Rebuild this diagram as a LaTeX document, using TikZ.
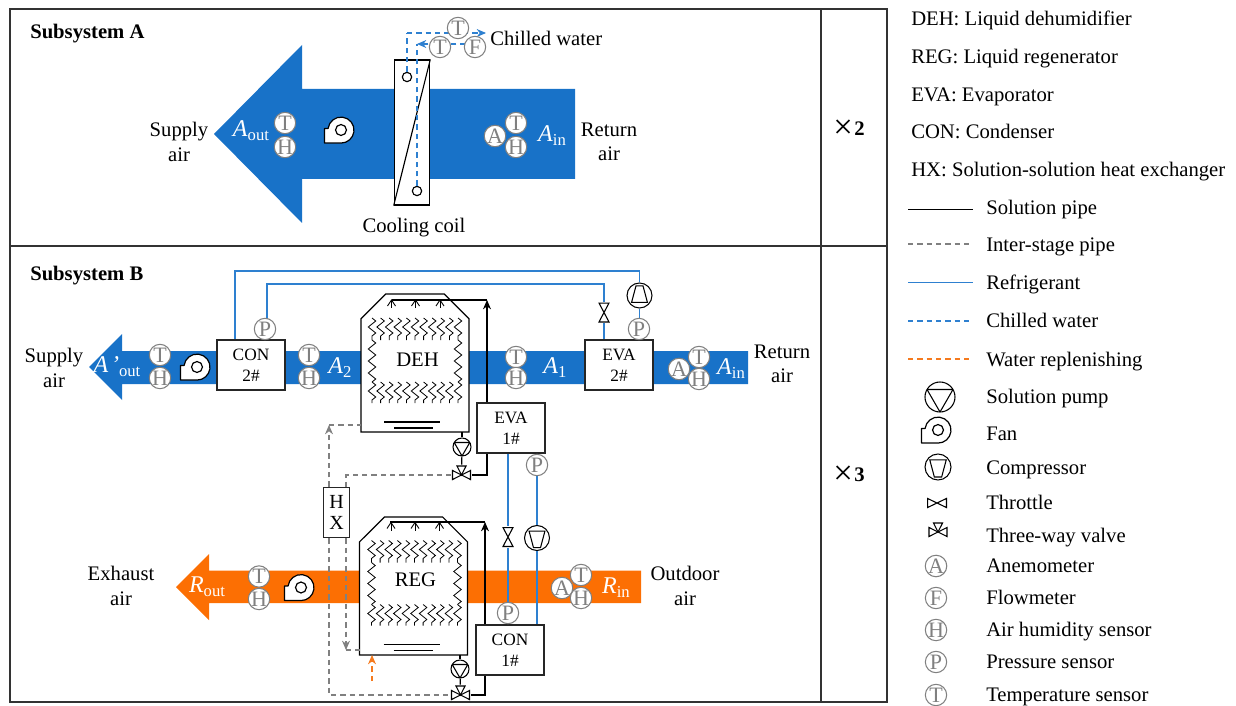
\documentclass[tikz,border=0pt]{standalone}
\usepackage{fontspec}
\setmainfont{Liberation Serif}
\usepackage{tikz}
\usetikzlibrary{positioning,arrows.meta,shapes.misc,decorations.pathmorphing}
\definecolor{AirBlue}{HTML}{1872C8}
\definecolor{AirOrange}{HTML}{FC6F03}
\definecolor{PipeBlue}{HTML}{2E80D0}
\definecolor{PipeGray}{HTML}{808080}
\definecolor{PipeOrange}{HTML}{F57A1E}
\definecolor{FrameGray}{HTML}{333333}
\newcommand{\airlab}[2]{{\fontsize{18}{18}\selectfont\textit{#1}}\raisebox{-3pt}{\fontsize{12.5}{12.5}\selectfont #2}}
\newcommand{\timesby}[1]{\raisebox{-2pt}{\fontsize{26}{26}\selectfont ×}\kern1pt\textbf{#1}}

\begin{document}
\begin{tikzpicture}[x=0.75pt,y=-0.75pt,>={Stealth[length=7pt,width=6pt]},
    font=\fontsize{15.5}{18.4}\selectfont]
  \tikzstyle{txt}=[inner sep=0pt,align=center]
  \tikzstyle{legtxt}=[inner sep=0pt,anchor=west,text height=10.5pt,text depth=3.3pt,yshift=-1.1pt]
  \tikzstyle{airtxt}=[inner sep=0pt,text=white]
  \tikzstyle{frameline}=[draw=FrameGray,line width=1.1pt]
  \tikzstyle{boxnode}=[draw=black!85,fill=white,line width=0.85pt,inner sep=0pt,align=center,
    minimum width=51pt,minimum height=37.5pt,font=\fontsize{13}{16}\selectfont,
    execute at begin node={\rule{0pt}{13pt}}]
  \tikzstyle{tower}=[chamfered rectangle,chamfered rectangle corners={north west,north east},
    chamfered rectangle xsep=13pt,chamfered rectangle ysep=13.5pt,draw=black,fill=white,
    line width=0.85pt,inner sep=0pt,outer sep=0pt,minimum width=81pt,minimum height=103.5pt]
  \tikzstyle{sensor}=[circle,draw=PipeGray,fill=white,line width=0.8pt,inner sep=0pt,
    minimum size=16pt,text=PipeGray,font=\fontsize{16.5}{16.5}\selectfont]
  \tikzstyle{solline}=[draw=black,line width=0.85pt]
  \tikzstyle{interline}=[draw=PipeGray,line width=0.8pt,dash pattern=on 4pt off 3pt]
  \tikzstyle{refline}=[draw=PipeBlue,line width=0.85pt]
  \tikzstyle{chillline}=[draw=PipeBlue,line width=0.8pt,dash pattern=on 4pt off 3pt]
  \tikzstyle{makeline}=[draw=PipeOrange,line width=0.8pt,dash pattern=on 4pt off 3pt]
  \tikzstyle{packline}=[line width=0.6pt,decorate,decoration={zigzag,segment length=9pt,amplitude=2.8pt}]
  \tikzset{
    pumpnode/.style={circle,draw=black,fill=white,line width=0.8pt,inner sep=0pt,minimum size=#1,
      path picture={\draw[line width=0.8pt]
        ([shift={(150:#1/2)}]path picture bounding box.center)
        --([shift={(30:#1/2)}]path picture bounding box.center)
        --([shift={(-90:#1/2)}]path picture bounding box.center)--cycle;}},
    compnode/.style 2 args={circle,draw=black,fill=white,line width=0.8pt,inner sep=0pt,minimum size=#1,
      path picture={\draw[line width=0.8pt]
        ([shift={(#2*41:#1*0.42)}]path picture bounding box.center)
        --([shift={(#2*139:#1*0.42)}]path picture bounding box.center)
        --([shift={(#2*-110:#1*0.41)}]path picture bounding box.center)
        --([shift={(#2*-70:#1*0.41)}]path picture bounding box.center)--cycle;}},
    thrv/.style={inner sep=0pt,minimum width=9pt,minimum height=15.75pt,
      path picture={\draw[line width=0.8pt,fill=white]
        ([shift={(-3.75pt,7.1pt)}]path picture bounding box.center)
        --([shift={(3.75pt,-7.1pt)}]path picture bounding box.center)
        --([shift={(-3.75pt,-7.1pt)}]path picture bounding box.center)
        --([shift={(3.75pt,7.1pt)}]path picture bounding box.center)--cycle;}},
    thrh/.style={inner sep=0pt,minimum width=15.75pt,minimum height=9pt,
      path picture={\draw[line width=0.8pt,fill=white]
        ([shift={(-7.1pt,3.4pt)}]path picture bounding box.center)
        --([shift={(7.1pt,-3.4pt)}]path picture bounding box.center)
        --([shift={(7.1pt,3.4pt)}]path picture bounding box.center)
        --([shift={(-7.1pt,-3.4pt)}]path picture bounding box.center)--cycle;}},
    valvenode/.style={inner sep=0pt,minimum size=15pt,
      path picture={\draw[line width=0.8pt,fill=white]
        ([shift={(-6.75pt,3.4pt)}]path picture bounding box.center)
        --([shift={(6.75pt,-3.4pt)}]path picture bounding box.center)
        --([shift={(6.75pt,3.4pt)}]path picture bounding box.center)
        --([shift={(-6.75pt,-3.4pt)}]path picture bounding box.center)--cycle;
        \draw[line width=0.8pt,fill=white]
        (path picture bounding box.center)
        --([shift={(-3.4pt,6.75pt)}]path picture bounding box.center)
        --([shift={(3.4pt,6.75pt)}]path picture bounding box.center)--cycle;}},
    fanpic/.pic={
      \draw[line width=0.9pt,fill=white,line join=round] (-16.5,13) -- (-16.5,-1.5) -- (-12.9,-1.5)
        arc[start angle=173,end angle=-90,radius=9.75pt] -- cycle;
      \draw[line width=0.9pt] (0,0) circle[radius=4.1pt];},
    fillpic/.pic={
      % packing and nozzles of one tower
      \foreach \xx in {-43,-34.4,...,44} {
        \draw[packline] (\xx,-42) -- (\xx,-20);
        \draw[packline] (\xx,22) -- (\xx,43);
      }
      \foreach \xx in {-43,43}
        \draw[packline] (\xx,-20) -- (\xx,22);
      \foreach \xx in {-23.5,0.5,25} {
        \draw[line width=0.7pt] (\xx,-60) -- (\xx,-52);
        \draw[line width=0.7pt] (\xx-4,-54) -- (\xx,-60) -- (\xx+4,-54);
      }
      \draw[line width=0.85pt] (-31,62) -- (25,62);
      \draw[line width=0.85pt] (-21,68) -- (18,68);}
  }
  \useasboundingbox (0,0) rectangle (1236,706);

  % air streams
  \fill[AirBlue] (575,89) -- (302,89) -- (302,45) -- (214,134) -- (302,223) -- (302,179) -- (575,179) -- cycle;
  \fill[AirBlue] (748,351) -- (122,351) -- (122,334) -- (89,367) -- (122,400) -- (122,384) -- (748,384) -- cycle;
  \fill[AirOrange] (641,570.5) -- (209,570.5) -- (209,554) -- (176,587) -- (209,620) -- (209,603) -- (641,603) -- cycle;

  % frame
  \draw[frameline] (10,9) rectangle (887,702);
  \draw[frameline] (821,9) -- (821,702);
  \draw[frameline] (10,246) -- (887,246);

  % components
  \node[draw=black,fill=white,line width=0.85pt,minimum width=26.6pt,minimum height=108.75pt,inner sep=0pt] (coil) at (412,132.5) {};
  \draw[line width=0.85pt] (coil.south west) -- (coil.north east);
  \node[circle,draw=black,fill=white,line width=0.85pt,minimum size=7pt,inner sep=0pt] (portA) at (407,77) {};
  \node[circle,draw=black,fill=white,line width=0.85pt,minimum size=7pt,inner sep=0pt] (portB) at (417,191) {};
  \node[boxnode] (con2) at (251,365) {CON\\2\#};
  \node[boxnode] (eva2) at (619,365) {EVA\\2\#};
  \node[boxnode] (eva1) at (511,428) {EVA\\1\#};
  \node[boxnode] (con1) at (510,650) {CON\\1\#};
  \node[boxnode,minimum width=20pt,minimum height=38pt,font=\fontsize{15}{16}\selectfont] (hx) at (336.5,512.5) {H\\X};
  \node[tower] (deh) at (415,363) {\phantom{DEH}};
  \node[tower] (reg) at (413.5,586) {\phantom{REG}};
  \pic (fillD) at (415,360) {fillpic};
  \pic (fillR) at (414.5,582.5) {fillpic};
  \node[txt] (lDEH) at (417.5,360) {DEH};
  \node[txt] (lREG) at (415.5,580) {REG};
  \node[pumpnode=13.5pt] (pumpD) at (462,447) {};
  \node[pumpnode=13.5pt] (pumpR) at (460,669) {};
  \node[valvenode] (valD) at (461.5,475) {};
  \node[valvenode] (valR) at (460.5,695) {};
  \node[thrv] (thr2) at (604,312.5) {};
  \node[thrv] (thr1) at (508,537) {};
  \node[compnode={18.75pt}{-1}] (comp2) at (639.5,295.5) {};
  \node[compnode={18.75pt}{1}] (comp1) at (537,538) {};
  \pic (fanA) at (341,130) {fanpic};
  \pic (fanB) at (197,367) {fanpic};
  \pic (fanR) at (301,587.5) {fanpic};

  % pipe corners
  \coordinate (riserD) at (487,300);
  \coordinate (sprayD) at (392,300);
  \coordinate (riserR) at (485,522);
  \coordinate (sprayR) at (390,522);
  \coordinate (refA) at (235,271);
  \coordinate (refC) at (267,284);
  \coordinate (grayA) at (329,425);
  \coordinate (grayB) at (346,475);
  \coordinate (grayC) at (346,650);
  \coordinate (makeup) at (372,681);
  \coordinate (chA) at (407,33);
  \coordinate (chB) at (486,33);
  \coordinate (chC) at (417,44);
  \coordinate (chD) at (475,44);

  % solution pipes
  \draw[solline,->] (riserD |- eva1.north) -- (riserD);
  \draw[solline] (riserD) -- (sprayD);
  \draw[solline] (valD.east) -| (riserD |- eva1.south);
  \draw[solline] (pumpD) -- (pumpD |- deh.south);
  \draw[solline] (pumpD) -- (valD);
  \draw[solline,->] (riserR |- con1.north) -- (riserR);
  \draw[solline] (riserR) -- (sprayR);
  \draw[solline] (valR.east) -| (riserR |- con1.south);
  \draw[solline] (pumpR) -- (pumpR |- reg.south);
  \draw[solline] (pumpR) -- (valR);
  % inter-stage pipes
  \draw[interline,->] (grayA |- hx.north) -- (grayA);
  \draw[interline] (grayA) -- (grayA -| deh.west);
  \draw[interline] (grayA |- hx.south) -- (grayA |- valR) -- (valR.west);
  \draw[interline] (valD.west) -- (grayB) -- (grayB |- hx.north);
  \draw[interline,->] (grayB |- hx.south) -- (grayC);
  \draw[interline] (grayC) -- (grayC -| reg.west);
  % refrigerant
  \draw[refline] (refA |- con2.north) -- (refA) -- (comp2 |- refA) -- (comp2);
  \draw[refline] (refC |- con2.north) -- (refC) -- (thr2 |- refC) -- (thr2);
  \draw[refline] (thr2) -- (thr2 |- eva2.north);
  \draw[refline] (comp2) -- (comp2 |- eva2.north);
  \draw[refline] (thr1 |- eva1.south) -- (thr1);
  \draw[refline] (thr1) -- (thr1 |- con1.north);
  \draw[refline] (comp1 |- eva1.south) -- (comp1);
  \draw[refline] (comp1) -- (comp1 |- con1.north);
  % water
  \draw[makeline,->] (makeup) -- (makeup |- reg.south);
  \draw[chillline] (portA) -- (chA);
  \draw[chillline,->] (chA) -- (chB);
  \draw[chillline] (portB) -- (chC);
  \draw[chillline,->] (chD) -- (chC);

  % sensors
  \foreach \nm/\xx/\yy/\ltr in {aT/458/28/T,bT/440/47/T,aF/475/47/F,
      aA/495/136/A,cT/516/123/T,aH/516/147/H,dT/285/123/T,bH/285/147/H,
      eT/160/355/T,cH/160/378/H,aP/265/329/P,fT/309/355/T,dH/309/378/H,
      gT/516/357/T,eH/516/378/H,bP/639/329/P,bA/679/369/A,hT/699/357/T,fH/699/379/H,
      cP/537/465/P,dP/508/613/P,
      iT/259/576.5/T,gH/259/599/H,cA/562/588/A,jT/581/575/T,hH/581/598/H}
    \node[sensor] (s\nm) at (\xx,\yy) {\ltr};

  % air labels
  \node[airtxt] (lAout) at (251,131) {\airlab{A}{out}};
  \node[airtxt] (lAin) at (552,136) {\airlab{A}{in}};
  \node[airtxt] (lAdash) at (117,367) {\airlab{A\kern2pt'}{out}};
  \node[airtxt] (lA2) at (340,368) {\airlab{A}{2}};
  \node[airtxt] (lA1) at (555,368) {\airlab{A}{1}};
  \node[airtxt] (lAinB) at (731,369) {\airlab{A}{in}};
  \node[airtxt] (lRout) at (207,587) {\airlab{R}{out}};
  \node[airtxt] (lRin) at (616,588) {\airlab{R}{in}};

  % texts
  \node[legtxt,font=\fontsize{15.5}{18.4}\selectfont\bfseries] (tA) at (30,32) {Subsystem A};
  \node[legtxt,font=\fontsize{15.5}{18.4}\selectfont\bfseries] (tB) at (30,274) {Subsystem B};
  \node[txt] (tSupA) at (179,142) {Supply\\air};
  \node[txt] (tRetA) at (609,142) {Return\\air};
  \node[txt,yshift=-1pt] (tCoil) at (414,226) {Cooling coil};
  \node[legtxt] (tChill) at (490,39) {Chilled water};
  \node[txt] (tSupB) at (54,368) {Supply\\air};
  \node[txt] (tRetB) at (782,364) {Return\\air};
  \node[txt] (tExh) at (121,586) {Exhaust\\air};
  \node[txt] (tOut) at (685,586) {Outdoor\\air};
  \node[txt] (tX2) at (849,129) {\timesby{2}};
  \node[txt] (tX3) at (849,475) {\timesby{3}};

  % legend
  \foreach \i/\yy/\ltxt in {1/19/DEH: Liquid dehumidifier,2/57/REG: Liquid regenerator,
      3/95/EVA: Evaporator,4/132/CON: Condenser,5/170/HX: Solution-solution heat exchanger}
    \node[legtxt] (abbr\i) at (911,\yy) {\ltxt};
  \foreach \i/\yy/\ltxt in {1/208/Solution pipe,2/245/Inter-stage pipe,3/283/Refrigerant,
      4/321/Chilled water,5/360/Water replenishing,6/397/Solution pump,7/434/Fan,8/468/Compressor,
      9/503/Throttle,10/536/Three-way valve,11/566/Anemometer,12/598/Flowmeter,
      13/630/Air humidity sensor,14/662/Pressure sensor,15/695/Temperature sensor}
    \node[legtxt] (leg\i) at (986,\yy) {\ltxt};
  \foreach \i/\yy/\sty in {1/209.5/solline,2/244/interline,3/282.5/refline,4/321/chillline,5/359/makeline} {
    \coordinate (ls\i) at (908,\yy);
    \coordinate (le\i) at (973,\yy);
    \draw[\sty] (ls\i) -- (le\i);
  }
  \node[pumpnode=22.5pt] (keyPump) at (940,397) {};
  \pic (keyFan) at (938,430) {fanpic};
  \node[compnode={19.5pt}{1}] (keyComp) at (938,467) {};
  \node[thrh] (keyThr) at (937,503) {};
  \node[valvenode] (keyVal) at (938,532) {};
  \foreach \nm/\yy/\ltr in {A/566/A,F/598/F,H/630/H,P/662/P,T/695/T}
    \node[sensor] (key\nm) at (936,\yy) {\ltr};
\end{tikzpicture}
\end{document}
